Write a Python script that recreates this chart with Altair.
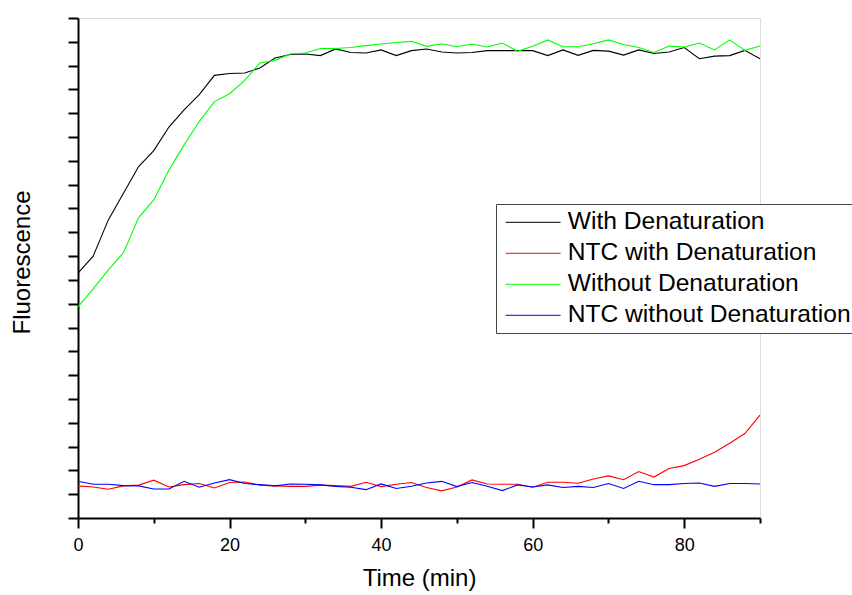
import altair as alt
import pandas as pd

time_min = [0, 2, 4, 6, 8, 10, 12, 14, 16, 18, 20, 22, 24, 26, 28, 30, 32, 34, 36, 38,
            40, 42, 44, 46, 48, 50, 52, 54, 56, 58, 60, 62, 64, 66, 68, 70, 72, 74, 76, 78,
            80, 82, 84, 86, 88, 90]

series_names = ["With Denaturation", "NTC with Denaturation",
                "Without Denaturation", "NTC without Denaturation"]
series_colors = ["#000000", "#ff0000", "#00ff00", "#0000ff"]

with_denat = [1028, 1100, 1252, 1364, 1476, 1543, 1642, 1714, 1778, 1859, 1867, 1869,
              1890, 1932, 1947, 1949, 1942, 1970, 1955, 1953, 1966, 1942, 1963, 1970,
              1957, 1953, 1955, 1963, 1963, 1963, 1963, 1942, 1966, 1943, 1964, 1961,
              1944, 1966, 1951, 1957, 1976, 1929, 1940, 1942, 1964, 1929]

ntc_with_denat = [135, 130, 121, 135, 138, 159, 130, 140, 145, 126, 149, 151, 138, 135,
                  133, 133, 138, 136, 133, 150, 132, 142, 149, 128, 114, 130, 160, 143,
                  142, 142, 129, 150, 150, 146, 164, 177, 161, 195, 172, 208, 220, 247,
                  276, 314, 355, 432]

without_denat = [887, 962, 1042, 1114, 1262, 1336, 1462, 1567, 1665, 1749, 1782, 1838,
                 1911, 1922, 1949, 1953, 1972, 1972, 1976, 1984, 1991, 1997, 2002, 1981,
                 1992, 1979, 1991, 1978, 1995, 1960, 1981, 2008, 1979, 1979, 1992, 2008,
                 1989, 1976, 1955, 1982, 1978, 1995, 1966, 2008, 1964, 1982]

ntc_without_denat = [154, 142, 142, 136, 135, 122, 122, 154, 129, 147, 161, 145, 140, 135,
                     143, 142, 139, 133, 129, 119, 143, 124, 133, 147, 154, 132, 149, 133,
                     115, 139, 130, 139, 128, 133, 128, 145, 124, 154, 140, 140, 145, 147,
                     133, 145, 145, 143]

x_tick_values = [0, 10, 20, 30, 40, 50, 60, 70, 80, 90]
y_tick_values = [0, 100, 200, 300, 400, 500, 600, 700, 800, 900, 1000, 1100, 1200,
                 1300, 1400, 1500, 1600, 1700, 1800, 1900, 2000, 2100]

all_series = [with_denat, ntc_with_denat, without_denat, ntc_without_denat]
rows = []
for name, vals in zip(series_names, all_series):
    for t, v in zip(time_min, vals):
        rows.append({"time": t, "value": v, "series": name})
df = pd.DataFrame(rows)

FONT = "Liberation Sans"

chart = alt.Chart(df).mark_line(strokeWidth=1.1, clip=False).encode(
    x=alt.X("time:Q", scale=alt.Scale(domain=[0, 90], nice=False, zero=False),
            axis=alt.Axis(values=x_tick_values, title="Time (min)",
                          labelExpr="datum.value % 20 == 0 ? datum.label : ''",
                          tickSize={"condition": {"test": "datum.value % 20 == 0", "value": 10}, "value": 5},
                          labelPadding=8, labelFontSize=18, labelFont=FONT,
                          labelColor="#000", titleFont=FONT, titleFontSize=24,
                          titleFontWeight="normal", titleColor="#000",
                          titleBaseline="alphabetic", titleY=67,
                          domainColor="#000", domainWidth=2, tickColor="#000",
                          tickWidth=2, grid=False, labelFlush=False)),
    y=alt.Y("value:Q", scale=alt.Scale(domain=[0, 2100], nice=False, zero=False),
            axis=alt.Axis(values=y_tick_values, labels=False, title="Fluorescence",
                          tickSize=10, tickWidth=2, tickColor="#000",
                          domainColor="#000", domainWidth=2, grid=False,
                          titleFont=FONT, titleFontSize=24, titleFontWeight="normal",
                          titleColor="#000", titleAngle=270, titleBaseline="alphabetic",
                          titleAlign="center", titleX=-49, titleY=244)),
    color=alt.Color("series:N", sort=series_names,
                    scale=alt.Scale(domain=series_names, range=series_colors),
                    legend=alt.Legend(title=None, orient="none", legendX=418, legendY=186,
                                      padding=6, rowPadding=6, strokeColor="#444",
                                      fillColor="#ffffff", symbolType="M-5,0H5",
                                      symbolSize=121, symbolStrokeWidth=1,
                                      symbolOffset=18.8, labelOffset=22.3,
                                      labelFont=FONT, labelFontSize=24.6, labelColor="#000",
                                      labelLimit=600)),
).properties(
    width=682, height=500,
    padding={"left": 78, "top": 18, "right": 92, "bottom": 77},
    autosize=alt.AutoSizeParams(type="none"),
).configure_view(stroke=None).configure(background="#ffffff")

chart.save("out.html", embed_options={"renderer": "svg", "actions": False})
